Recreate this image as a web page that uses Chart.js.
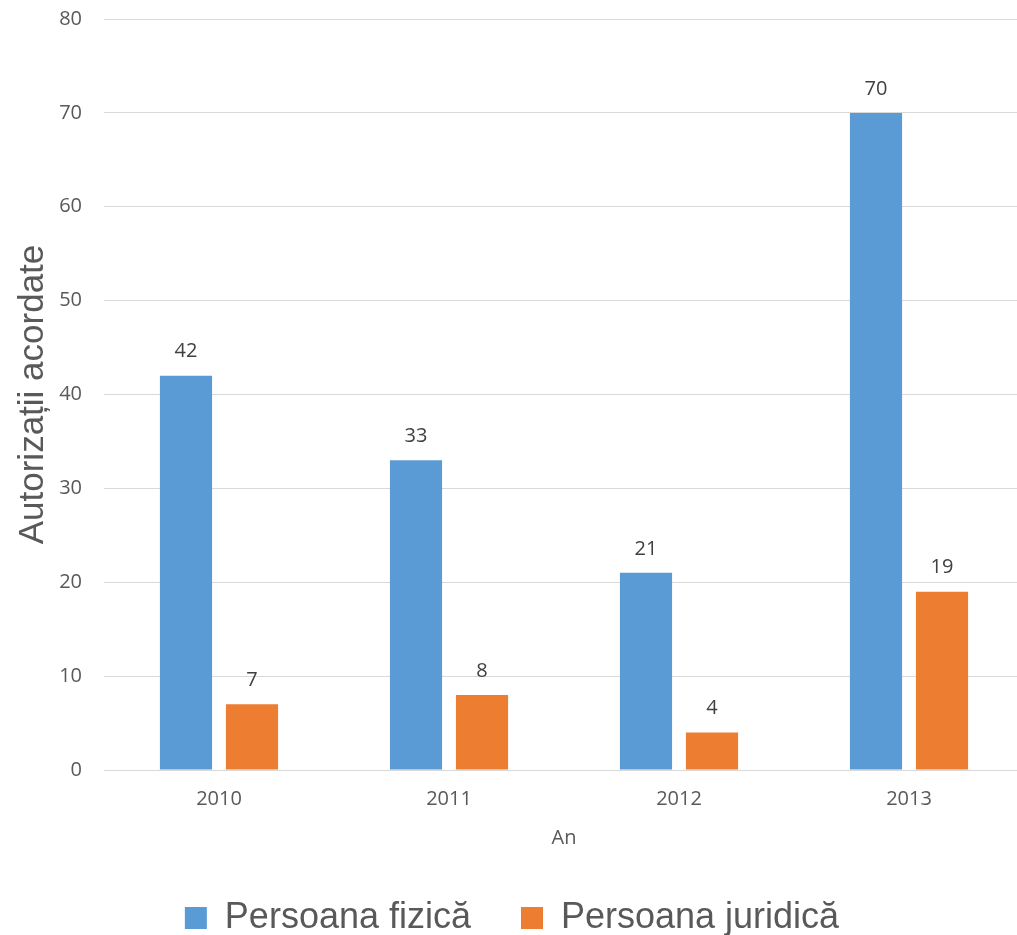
<!DOCTYPE html>
<html>
<head>
<meta charset="utf-8">
<script src="https://cdn.jsdelivr.net/npm/chart.js@4/dist/chart.umd.min.js"></script>
<style>
  html, body { margin: 0; padding: 0; background: #fff; overflow: hidden; }
  #wrap { width: 1024px; height: 935px; overflow: hidden; }
  #chart { display: block; margin-top: -15px; }
</style>
</head>
<body>
<div id="wrap"><canvas id="chart" width="1024" height="950"></canvas></div>
<script>
// Data
const years = ['2010', '2011', '2012', '2013'];
const persoanaFizica = [42, 33, 21, 70];
const persoanaJuridica = [7, 8, 4, 19];
const seriesNames = ['Persoana fizică', 'Persoana juridică'];

const tickFont = { family: "'Open Sans', 'Noto Sans', sans-serif", size: 20 };

// Value labels above each bar
const valueLabels = {
    id: 'valueLabels',
    afterDatasetsDraw(chart) {
        const ctx = chart.ctx;
        ctx.save();
        ctx.font = "20px 'Open Sans', 'Noto Sans', sans-serif";
        ctx.fillStyle = '#404040';
        ctx.textAlign = 'center';
        ctx.textBaseline = 'bottom';
        chart.data.datasets.forEach((ds, i) => {
            chart.getDatasetMeta(i).data.forEach((bar, j) => {
                ctx.fillText(ds.data[j], bar.x, bar.y - 14);
            });
        });
        ctx.restore();
    }
};

new Chart(document.getElementById('chart'), {
    type: 'bar',
    data: {
        labels: years,
        datasets: [
            {
                label: seriesNames[0],
                data: persoanaFizica,
                backgroundColor: '#5B9BD5'
            },
            {
                label: seriesNames[1],
                data: persoanaJuridica,
                backgroundColor: '#ED7D31'
            }
        ]
    },
    options: {
        responsive: false,
        animation: false,
        categoryPercentage: 0.574,
        barPercentage: 0.79,
        layout: { padding: { top: 0, left: 0, right: 0, bottom: -11 } },
        plugins: {
            legend: {
                position: 'bottom',
                labels: {
                    boxWidth: 22,
                    boxHeight: 22,
                    padding: 50,
                    color: '#595959',
                    font: { family: "'Liberation Sans', Arial, sans-serif", size: 36 }
                }
            },
            tooltip: { enabled: false }
        },
        scales: {
            x: {
                grid: { display: false },
                border: { color: '#D9D9D9', width: 1 },
                ticks: { color: '#595959', font: tickFont, padding: 9 },
                title: {
                    display: true,
                    text: 'An',
                    color: '#595959',
                    font: tickFont,
                    padding: { top: 6, bottom: 0 }
                }
            },
            y: {
                min: 0,
                max: 80,
                afterFit(scale) { scale.width = 104; },
                grid: { color: '#D9D9D9', drawTicks: false },
                border: { display: false },
                ticks: { stepSize: 10, color: '#595959', font: tickFont, padding: 22 },
                title: {
                    display: true,
                    text: 'Autorizații acordate',
                    color: '#595959',
                    font: { family: "'Liberation Sans', Arial, sans-serif", size: 35 },
                    padding: { top: 12, bottom: 0 }
                }
            }
        }
    },
    plugins: [valueLabels]
});
</script>
</body>
</html>
